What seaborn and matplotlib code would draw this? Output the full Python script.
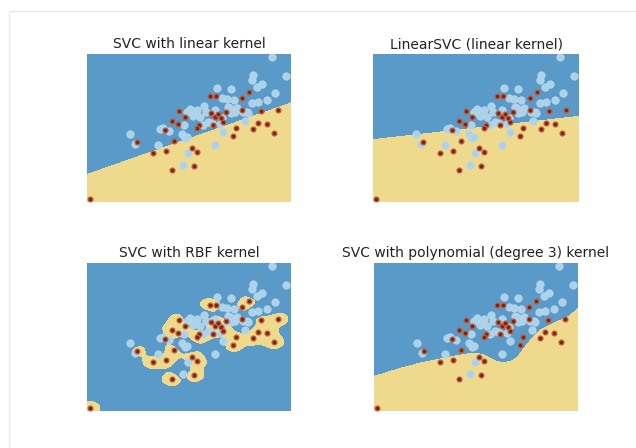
import numpy as np
import pandas as pd
import seaborn as sns
import matplotlib
matplotlib.use("Agg")
import matplotlib.pyplot as plt
from matplotlib.lines import Line2D

# ---------------- data ----------------
red_x = [3, 123, 129, 162, 155, 92, 124, 128, 131, 134, 139, 136, 155, 174, 191,
         98, 85, 91, 126, 112, 110, 149, 171, 180, 166, 187, 78, 146, 87, 50,
         66, 79, 105, 110, 85, 107]
red_y = [3, 106, 106, 110, 104, 91, 89, 85, 88, 84, 90, 80, 92, 91, 92,
         85, 81, 78, 77, 77, 74, 74, 79, 78, 73, 69, 72, 66, 61, 60,
         49, 51, 54, 50, 32, 36]

blue_x = [185, 199, 166, 165, 175, 170, 188, 144, 130, 135, 140, 147, 165, 171, 180,
          117, 110, 103, 100, 106, 113, 128, 141, 150, 148, 160, 156, 143,
          76, 73, 82, 95, 98, 100, 43, 48, 71, 116, 121, 125, 133, 135, 158,
          144, 128, 101, 96, 136, 97, 119, 161]
blue_y = [145, 126, 127, 122, 118, 115, 109, 113, 114, 104, 103, 102, 99, 100, 102,
          96, 92, 93, 90, 86, 85, 92, 95, 94, 90, 90, 90, 94,
          74, 73, 71, 68, 64, 65, 68, 58, 57, 77, 80, 79, 78, 84, 81,
          89, 57, 49, 37, 70, 77, 90, 89]

titles = ["SVC with linear kernel", "LinearSVC (linear kernel)",
          "SVC with RBF kernel", "SVC with polynomial (degree 3) kernel"]

# decision boundaries
svc_linear_edges = [28.7, 100.3]      # boundary height at left / right edge
linearsvc_edges = [63.4, 86.7]
poly_boundary_x = [0, 12.7, 29.3, 46, 62.7, 79.3, 92.7, 102.7, 109.3, 116, 122.7,
                   129.3, 136, 142.7, 149.3, 156, 166, 179.3, 192.7, 204.3]
poly_boundary_y = [35.7, 39.7, 44.7, 49, 52.3, 55.7, 58, 59, 57.3, 54, 50.7,
                   49.3, 50.7, 54.7, 64, 72.3, 82.3, 89, 94.7, 104]
rbf_width_x = 6.8
rbf_width_y = 4.8
rbf_threshold = 0.28
rbf_blue_weight = 0.4

X_MAX, Y_MAX = 204, 148
BLUE_BG = "#5a9ac8"
YELLOW_BG = "#eed98d"

df_red = pd.DataFrame({"x": red_x, "y": red_y})
df_blue = pd.DataFrame({"x": blue_x, "y": blue_y})

# ---------------- decision functions on a grid ----------------
gx = np.linspace(0, X_MAX, 500)
gy = np.linspace(0, Y_MAX, 360)
GX, GY = np.meshgrid(gx, gy)


def linear_z(edges):
    line = edges[0] + (edges[1] - edges[0]) * GX / X_MAX
    return GY - line


def kernel(x, y):
    return np.exp(-0.5 * (((GX - x) / rbf_width_x) ** 2 + ((GY - y) / rbf_width_y) ** 2))


def rbf_z():
    f = np.zeros_like(GX)
    for x, y in zip(red_x, red_y):
        f += kernel(x, y)
    for x, y in zip(blue_x, blue_y):
        f -= rbf_blue_weight * kernel(x, y)
    return rbf_threshold - f


def poly_z():
    return GY - np.interp(GX, poly_boundary_x, poly_boundary_y)


Zs = [linear_z(svc_linear_edges), linear_z(linearsvc_edges), rbf_z(), poly_z()]

# ---------------- figure ----------------
sns.set_style("white")
plt.rcParams["font.family"] = ["DejaVu Sans"]
fig = plt.figure(figsize=(6.36, 4.48), dpi=100)

W, H = 636, 448
boxes = [(87, 54, 291, 202), (373, 54, 579, 202),
         (87, 263, 291, 411), (374, 263, 578, 411)]

for (x0, y0, x1, y1), Z, title in zip(boxes, Zs, titles):
    ax = fig.add_axes([x0 / W, (H - y1) / H, (x1 - x0) / W, (y1 - y0) / H])
    ax.contourf(GX, GY, Z, levels=[-1e9, 0, 1e9], colors=[YELLOW_BG, BLUE_BG])
    sns.scatterplot(data=df_blue, x="x", y="y", ax=ax, color="#acd2ea",
                    edgecolor="#b8d8ec", linewidth=0.6, s=28, zorder=3)
    sns.scatterplot(data=df_red, x="x", y="y", ax=ax, color="#6e2a18",
                    edgecolor="#c65a3a", linewidth=0.9, s=12, zorder=4)
    ax.set_xlim(0, X_MAX)
    ax.set_ylim(0, Y_MAX)
    ax.set_title(title, fontsize=10, pad=4, color="#222222")
    ax.set_xlabel("")
    ax.set_ylabel("")
    ax.set_xticks([])
    ax.set_yticks([])
    for sp in ax.spines.values():
        sp.set_visible(False)

# faint screenshot frame
fig.add_artist(Line2D([9 / W, 1], [1 - 11 / H, 1 - 11 / H], color="#e6e6e6", lw=1))
fig.add_artist(Line2D([9 / W, 9 / W], [0, 1 - 11 / H], color="#ececec", lw=1))

fig.savefig("out.png", dpi=100)
